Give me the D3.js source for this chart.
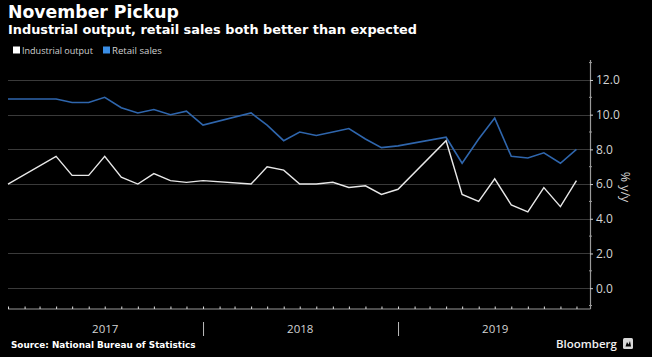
<!DOCTYPE html>
<html>
<head>
<meta charset="utf-8">
<script src="https://cdn.jsdelivr.net/npm/d3@7"></script>
<style>
  html, body { margin: 0; padding: 0; background: #000; }
  svg { display: block; font-family: "Open Sans", "Noto Sans", sans-serif; }
</style>
</head>
<body>
<svg id="chart" width="652" height="357"></svg>
<script>
// ---- Data (month-end observations; Jan/Feb combined releases omitted) ----
const months = ["2016-12","2017-03","2017-04","2017-05","2017-06","2017-07","2017-08","2017-09","2017-10","2017-11","2017-12",
                "2018-03","2018-04","2018-05","2018-06","2018-07","2018-08","2018-09","2018-10","2018-11","2018-12",
                "2019-03","2019-04","2019-05","2019-06","2019-07","2019-08","2019-09","2019-10","2019-11"];
const industrialOutput = [6.0,7.6,6.5,6.5,7.6,6.4,6.0,6.6,6.2,6.1,6.2,
                          6.0,7.0,6.8,6.0,6.0,6.1,5.8,5.9,5.4,5.7,
                          8.5,5.4,5.0,6.3,4.8,4.4,5.8,4.7,6.2];
const retailSales = [10.9,10.9,10.7,10.7,11.0,10.4,10.1,10.3,10.0,10.2,9.4,
                     10.1,9.4,8.5,9.0,8.8,9.0,9.2,8.6,8.1,8.2,
                     8.7,7.2,8.6,9.8,7.6,7.5,7.8,7.2,8.0];
const yTicks = [0, 2, 4, 6, 8, 10, 12];
const yTickLabels = ["0.0","2.0","4.0","6.0","8.0","10.0","12.0"];
const years = ["2017","2018","2019"];
const seriesNames = ["Industrial output","Retail sales"];
const colors = { ind: "#e8e8e8", ret: "#2f66ad", retLegend: "#3a8ee6" };

// ---- Setup ----
const svg = d3.select("#chart");
svg.append("rect").attr("width", 652).attr("height", 357).attr("fill", "#000");

const monthEnd = s => { const [y, m] = s.split("-").map(Number); return new Date(y, m, 0); };
const dates = months.map(monthEnd);

const x = d3.scaleTime()
  .domain([new Date(2016, 11, 31), new Date(2019, 11, 31)])
  .range([8, 593]);
const y = d3.scaleLinear().domain([-1.2, 13.15]).range([309, 60]);
const axisX = 590;
const boldFont = "'DejaVu Sans', Verdana, sans-serif";
const regFont = "'Open Sans', sans-serif";

function fit(sel, target) {
  const w = sel.node().getComputedTextLength();
  const fs = parseFloat(sel.style("font-size"));
  sel.style("font-size", (fs * target / w).toFixed(2) + "px");
}
function txt(xp, yp, size, family, weight, fill, s) {
  return svg.append("text").attr("x", xp).attr("y", yp)
    .style("font-size", size + "px").style("font-family", family).style("font-weight", weight)
    .attr("fill", fill).text(s);
}

// ---- Titles ----
fit(txt(8, 17.5, 17, boldFont, 700, "#fff", "November Pickup"), 171);
fit(txt(8, 33.5, 13, boldFont, 700, "#fff", "Industrial output, retail sales both better than expected"), 409);

// ---- Legend ----
const leg = [
  { name: seriesNames[0], color: "#ffffff", x: 13, tw: 71 },
  { name: seriesNames[1], color: colors.retLegend, x: 103, tw: 50 }
];
leg.forEach(l => {
  svg.append("rect").attr("x", l.x).attr("y", 46.5).attr("width", 7).attr("height", 7).attr("fill", l.color);
  fit(txt(l.x + 9, 53.5, 11, regFont, 400, "#d0d0d0", l.name), l.tw);
});

// ---- Gridlines ----
svg.append("g").selectAll("line").data(yTicks).join("line")
  .attr("x1", 8).attr("x2", axisX)
  .attr("y1", d => Math.round(y(d)) + 0.5).attr("y2", d => Math.round(y(d)) + 0.5)
  .attr("stroke", "#3a3a3a").attr("stroke-width", 1);

// ---- Y axis (right) ----
const yAxisG = svg.append("g").attr("transform", `translate(${axisX},0)`);
yAxisG.append("line").attr("x1", 0.5).attr("x2", 0.5).attr("y1", 60).attr("y2", 309)
  .attr("stroke", "#9a9a9a").attr("stroke-width", 1.2);
const yAxis = d3.axisRight(y).tickValues(yTicks).tickSize(3).tickPadding(3)
  .tickFormat((d, i) => yTickLabels[i]);
const ya = yAxisG.append("g").call(yAxis);
ya.select(".domain").remove();
ya.selectAll(".tick line").attr("stroke", "#cfcfcf");
ya.selectAll(".tick text").attr("fill", "#d4d4d4")
  .style("font-size", "12px").style("font-family", regFont);
// minor ticks
const minor = d3.range(-1, 14, 2);
yAxisG.append("g").selectAll("line").data(minor).join("line")
  .attr("x1", -1).attr("x2", 2)
  .attr("y1", d => y(d)).attr("y2", d => y(d))
  .attr("stroke", "#9a9a9a");
svg.append("text").attr("transform", "translate(621,187) rotate(90)")
  .attr("text-anchor", "middle").style("font-size", "12.5px").style("font-family", regFont)
  .attr("fill", "#d4d4d4").text("% y/y");

// ---- X axis ----
const xAxisG = svg.append("g");
xAxisG.append("line").attr("x1", 8).attr("x2", axisX + 0.5).attr("y1", 309).attr("y2", 309)
  .attr("stroke", "#9a9a9a").attr("stroke-width", 1.2);
const monthTicks = d3.timeMonth.range(new Date(2017, 0, 1), new Date(2019, 11, 31));
xAxisG.append("g").selectAll("line").data(monthTicks).join("line")
  .attr("x1", d => x(d)).attr("x2", d => x(d))
  .attr("y1", 306.5).attr("y2", 309)
  .attr("stroke", "#e0e0e0").attr("stroke-width", 1);
const yearSeps = [new Date(2018, 0, 1), new Date(2019, 0, 1)];
xAxisG.append("g").selectAll("line").data(yearSeps).join("line")
  .attr("x1", d => x(d)).attr("x2", d => x(d))
  .attr("y1", 322).attr("y2", 336)
  .attr("stroke", "#bdbdbd").attr("stroke-width", 1);
xAxisG.append("g").selectAll("text").data(years).join("text")
  .attr("x", d => x(new Date(+d, 6, 1)))
  .attr("y", 333).attr("text-anchor", "middle")
  .style("font-size", "11.5px").style("font-family", regFont)
  .attr("fill", "#d4d4d4").text(d => d);

// ---- Lines ----
const line = d3.line().x((d, i) => x(dates[i])).y(d => y(d));
svg.append("path").datum(retailSales).attr("d", line)
  .attr("fill", "none").attr("stroke", colors.ret).attr("stroke-width", 1.6)
  .attr("stroke-linejoin", "miter");
svg.append("path").datum(industrialOutput).attr("d", line)
  .attr("fill", "none").attr("stroke", colors.ind).attr("stroke-width", 1.4)
  .attr("stroke-linejoin", "miter");

// ---- Footer ----
fit(txt(11, 347.5, 9.5, boldFont, 700, "#fff", "Source: National Bureau of Statistics"), 185);
fit(txt(556, 348, 13, regFont, 600, "#f0f0f0", "Bloomberg"), 61);
// small logo mark
const logo = svg.append("g").attr("transform", "translate(623,338)");
logo.append("rect").attr("width", 10).attr("height", 11).attr("rx", 1.5).attr("fill", "#d8d8d8");
logo.append("path").attr("d", "M2.5 8.5 L4 4 L5.5 6.5 L7 3 L8 8.5 Z").attr("fill", "#000");
</script>
</body>
</html>
